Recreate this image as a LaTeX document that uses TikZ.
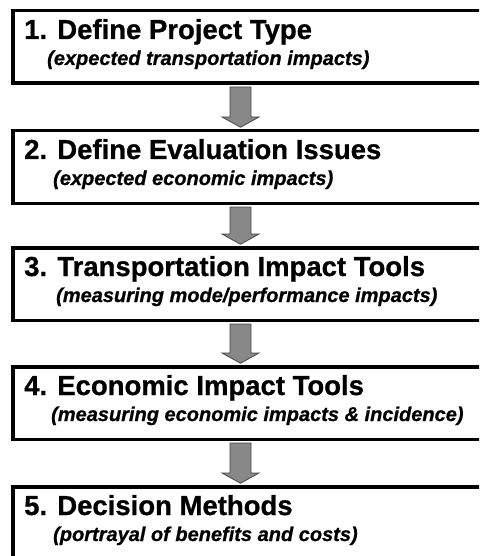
\documentclass[tikz,border=0pt]{standalone}
\usepackage{fontspec}
\setmainfont{Liberation Sans}[BoldFeatures={FakeBold=0.8}, BoldItalicFeatures={FakeBold=0.8}]
\usepackage{tikz}
\usetikzlibrary{calc}
\definecolor{arrowgray}{RGB}{136,136,136}
\definecolor{arrowedge}{RGB}{70,70,70}
\tikzset{stepbox/.style={draw,line width=3.5pt,minimum width=484pt,minimum height=72.5pt,inner sep=0pt},
    titletext/.style={anchor=base west,inner sep=0pt,font=\fontsize{27.5}{30}\selectfont\bfseries},
    subtext/.style={anchor=base west,inner sep=0pt,font=\fontsize{20}{24}\selectfont\bfseries\itshape},
    blockarrow/.style={fill=arrowgray,draw=arrowedge,line width=0.8pt}}

\begin{document}
\begin{tikzpicture}[x=1pt, y=-1pt]
    \useasboundingbox (0,0) rectangle (479,556);
    \clip (0,0) rectangle (479,556);
    
    \coordinate (axis) at (240.5,0);
    
    \foreach \i/\top in {1/9, 2/129, 3/246, 4/365, 5/485}
        \node [stepbox] (b\i) at (254.75,\top+38) {};
    
    \node [titletext] (t1) at ($(b1.north west)+(13,30)$) {1. Define Project Type};
    \node [subtext] (s1) at ($(b1.north west)+(36,56)$) {(expected transportation impacts)};
    \node [titletext] (t2) at ($(b2.north west)+(13,30)$) {2. Define Evaluation Issues};
    \node [subtext] (s2) at ($(b2.north west)+(42,56)$) {(expected economic impacts)};
    \node [titletext] (t3) at ($(b3.north west)+(13,30)$) {3. Transportation Impact Tools};
    \node [subtext] (s3) at ($(b3.north west)+(45,56)$) {(measuring mode/performance impacts)};
    \node [titletext] (t4) at ($(b4.north west)+(13,30)$) {4. Economic Impact Tools};
    \node [subtext] (s4) at ($(b4.north west)+(40,56)$) {(measuring economic impacts \& incidence)};
    \node [titletext] (t5) at ($(b5.north west)+(13,30)$) {5. Decision Methods};
    \node [subtext] (s5) at ($(b5.north west)+(42,56)$) {(portrayal of benefits and costs)};
    
    \foreach \i/\j in {1/2, 2/3, 3/4, 4/5}
        \draw [blockarrow] ($(b\i.south -| axis)+(-10.5,2)$) -- ($(b\i.south -| axis)+(10.5,2)$)
            -- ($(b\j.north -| axis)+(10.5,-12)$) -- ($(b\j.north -| axis)+(18.5,-12)$)
            -- ($(b\j.north -| axis)+(0,-1.75)$) -- ($(b\j.north -| axis)+(-18.5,-12)$)
            -- ($(b\j.north -| axis)+(-10.5,-12)$) -- cycle;
    
\end{tikzpicture}
\end{document}
